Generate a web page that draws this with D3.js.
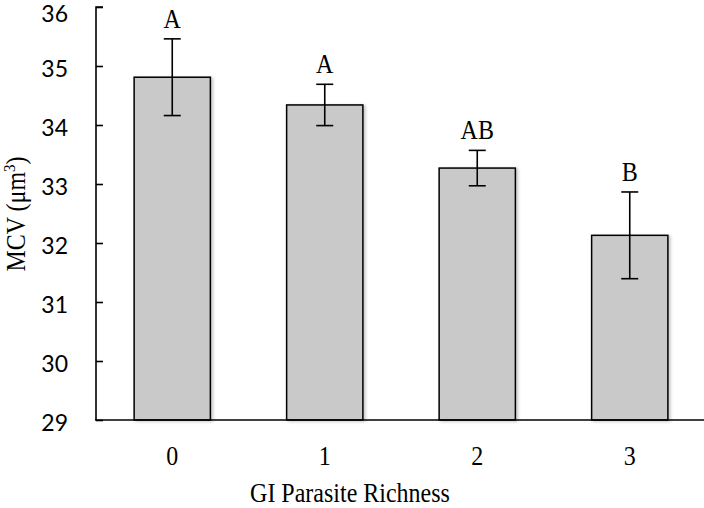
<!DOCTYPE html>
<html>
<head>
<meta charset="utf-8">
<script src="https://cdn.jsdelivr.net/npm/d3@7"></script>
<style>
  body { margin: 0; background: #fff; }
  svg { display: block; }
  .serif { font-family: "Liberation Serif", "DejaVu Serif", serif; }
  .sans { font-family: "Lato", "Open Sans", sans-serif; }
</style>
</head>
<body>
<svg id="chart" width="704" height="508"></svg>
<script>
// GI parasite richness vs. mean corpuscular volume
const richness = ["0", "1", "2", "3"];
const mcvMean = [34.81, 34.34, 33.27, 32.13];
const mcvErr = [0.65, 0.35, 0.30, 0.735];
const groupLetters = ["A", "A", "AB", "B"];
const yTicks = [29, 30, 31, 32, 33, 34, 35, 36];

const svg = d3.select("#chart");
const plotLeft = 96, plotRight = 706, plotTop = 7, plotBottom = 420;
const stretch = 1.1; // slightly tall serif lettering

const x = d3.scaleBand().domain(richness).range([plotLeft, plotRight]).paddingInner(0.5).paddingOuter(0.25);
const y = d3.scaleLinear().domain([29, 36]).range([plotBottom, plotTop]);

// soft shadow under the bars
const defs = svg.append("defs");
defs.append("filter").attr("id", "barShadow").attr("x", "-10%").attr("y", "-10%").attr("width", "130%").attr("height", "130%")
  .append("feDropShadow").attr("dx", 2).attr("dy", 1).attr("stdDeviation", 1.5)
  .attr("flood-color", "#000").attr("flood-opacity", 0.22);

// bars
svg.append("g").selectAll("rect")
  .data(richness)
  .join("rect")
  .attr("x", d => x(d))
  .attr("y", (d, i) => y(mcvMean[i]))
  .attr("width", x.bandwidth())
  .attr("height", (d, i) => y(29) - y(mcvMean[i]))
  .attr("fill", "#c9c9c9")
  .attr("stroke", "#000")
  .attr("stroke-width", 1.5)
  .attr("filter", "url(#barShadow)");

// error bars
const eb = svg.append("g").attr("stroke", "#000").attr("stroke-width", 1.6);
richness.forEach((d, i) => {
  const cx = x(d) + x.bandwidth() / 2;
  const hi = y(mcvMean[i] + mcvErr[i]), lo = y(mcvMean[i] - mcvErr[i]);
  eb.append("line").attr("x1", cx).attr("x2", cx).attr("y1", hi).attr("y2", lo);
  eb.append("line").attr("x1", cx - 8.5).attr("x2", cx + 8.5).attr("y1", hi).attr("y2", hi);
  eb.append("line").attr("x1", cx - 8.5).attr("x2", cx + 8.5).attr("y1", lo).attr("y2", lo);
});

// significance letters
svg.append("g").selectAll("text")
  .data(richness)
  .join("text")
  .attr("class", "serif")
  .attr("transform", (d, i) => `translate(${x(d) + x.bandwidth() / 2},${y(mcvMean[i] + mcvErr[i]) - 11}) scale(1,${stretch})`)
  .attr("text-anchor", "middle")
  .attr("font-size", 24)
  .text((d, i) => groupLetters[i]);

// y axis
const yAxis = svg.append("g")
  .attr("transform", `translate(${plotLeft},0)`)
  .call(d3.axisRight(y).tickValues(yTicks).tickSize(7).tickFormat(d3.format("d")));
yAxis.select(".domain").attr("stroke", "#000").attr("stroke-width", 1.6).attr("d", `M7,${plotTop}H0V${plotBottom}`);
yAxis.selectAll(".tick line").attr("stroke", "#000").attr("stroke-width", 1.6);
yAxis.selectAll(".tick text")
  .attr("class", "sans")
  .attr("x", -28)
  .attr("y", d => Math.max(y(d) + 3, 14) - y(d))
  .attr("text-anchor", "end")
  .attr("font-size", 23)
  .attr("fill", "#000");

// x axis
const xAxis = svg.append("g")
  .attr("transform", `translate(0,${plotBottom})`)
  .call(d3.axisBottom(x).tickSize(0).tickPadding(0));
xAxis.select(".domain").attr("stroke", "#000").attr("stroke-width", 1.6).attr("d", `M${plotLeft - 1},0H704`);
xAxis.selectAll(".tick text")
  .attr("class", "serif")
  .attr("dy", null)
  .attr("y", null)
  .attr("transform", `translate(0,45) scale(1,${stretch})`)
  .attr("font-size", 24)
  .attr("fill", "#000");

// axis titles
svg.append("text")
  .attr("class", "serif")
  .attr("transform", `translate(350,502) scale(1,${stretch})`)
  .attr("text-anchor", "middle")
  .attr("font-size", 24)
  .text("GI Parasite Richness");

svg.append("text")
  .attr("class", "serif")
  .attr("transform", `translate(25,214) rotate(-90) scale(1,${stretch})`)
  .attr("text-anchor", "middle")
  .attr("font-size", 24)
  .html('MCV (μm<tspan dy="-9" font-size="15">3</tspan><tspan dy="9">)</tspan>');
</script>
</body>
</html>
